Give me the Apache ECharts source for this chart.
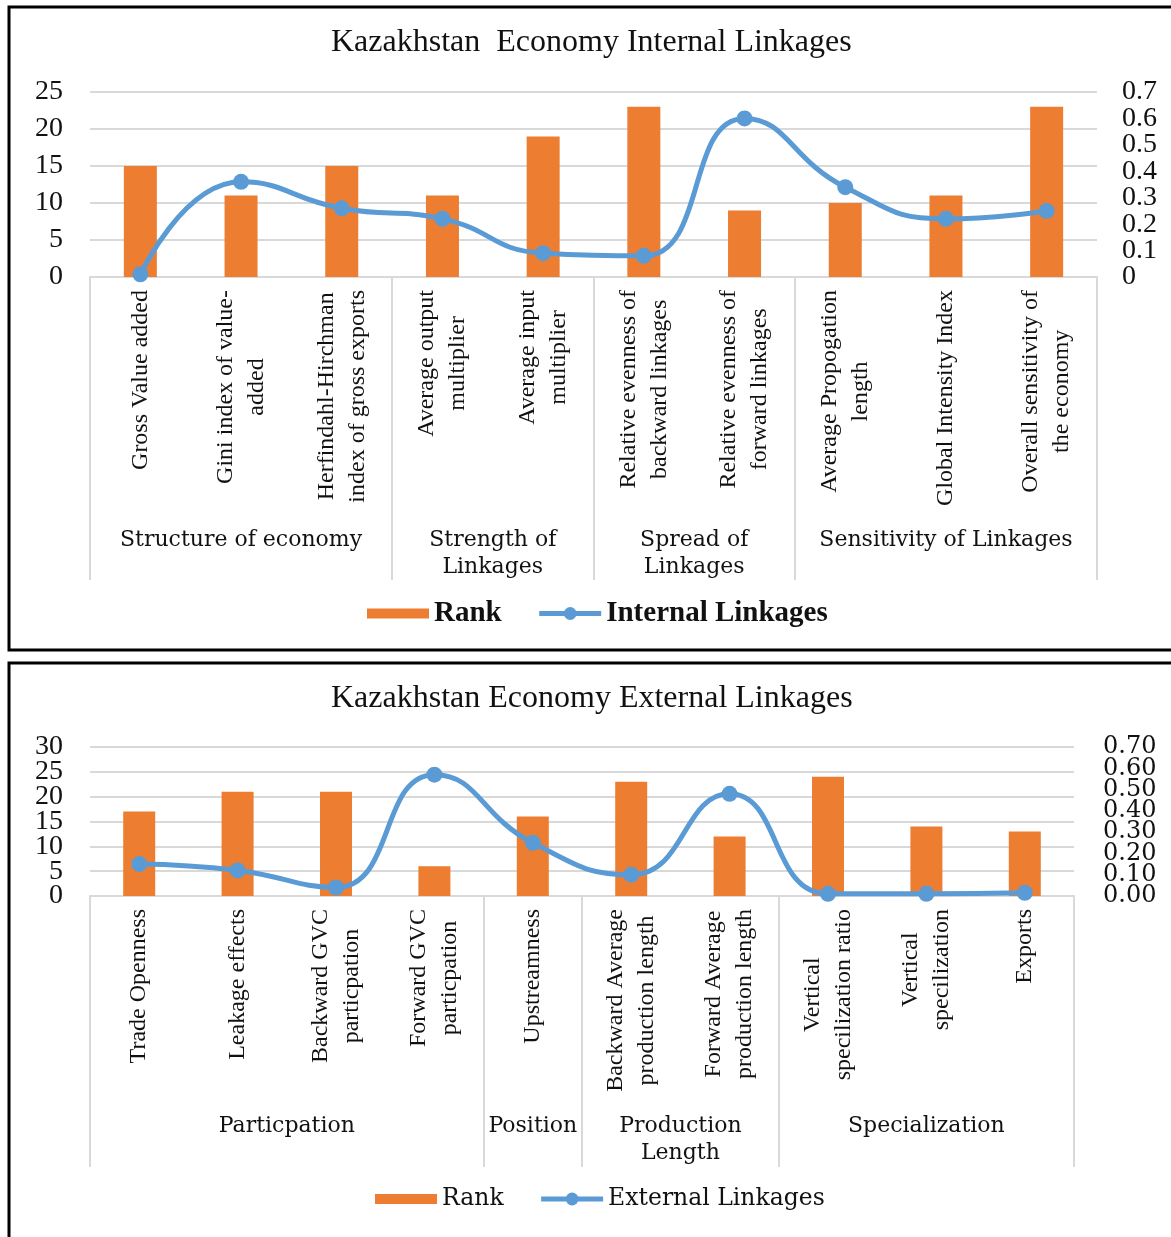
<!DOCTYPE html>
<html>
<head>
<meta charset="utf-8">
<script src="https://cdn.jsdelivr.net/npm/echarts@6/dist/echarts.min.js"></script>
<style>
  html, body { margin: 0; padding: 0; background: #fff; }
  #main { width: 1171px; height: 1237px; }
</style>
</head>
<body>
<div id="main"></div>
<script>
// internal linkages panel
const internalCats = [
  'Gross Value added',
  'Gini index of value-\nadded',
  'Herfindahl-Hirchman\nindex of gross exports',
  'Average output\nmultiplier',
  'Average input\nmultiplier',
  'Relative evenness of\nbackward linkages',
  'Relative evenness of\nforward linkages',
  'Average Propogation\nlength',
  'Global Intensity Index',
  'Overall sensitivity of\nthe economy'
];
const internalRank = [15, 11, 15, 11, 19, 23, 9, 10, 11, 23];
const internalLinkage = [0.01, 0.36, 0.26, 0.22, 0.09, 0.08, 0.60, 0.34, 0.22, 0.25];
const internalGroups = ['Structure of economy', 'Strength of\nLinkages', 'Spread of\nLinkages', 'Sensitivity of Linkages'];
const internalBreaks = [0, 3, 5, 7, 10];
const internalRankTicks = [0, 5, 10, 15, 20, 25];

// external linkages panel
const externalCats = [
  'Trade Openness',
  'Leakage effects',
  'Backward GVC\nparticpation',
  'Forward GVC\nparticpation',
  'Upstreamness',
  'Backward Average\nproduction length',
  'Forward Average\nproduction length',
  'Vertical\nspecilization ratio',
  'Vertical\nspecilization',
  'Exports'
];
const externalRank = [17, 21, 21, 6, 16, 23, 12, 24, 14, 13];
const externalLinkage = [0.15, 0.12, 0.04, 0.57, 0.25, 0.10, 0.48, 0.01, 0.01, 0.015];
const externalGroups = ['Particpation', 'Position', 'Production\nLength', 'Specialization'];
const externalBreaks = [0, 4, 5, 7, 10];
const externalRankTicks = [0, 5, 10, 15, 20, 25, 30];

// both right axes share the same 0 .. 0.7 scale
const linkageTicks = [0, 0.1, 0.2, 0.3, 0.4, 0.5, 0.6, 0.7];

const ORANGE = '#ED7D31';
const BLUE = '#5B9BD5';
const GRID_GREY = '#d9d9d9';
const TXT = '#111';
const BAR_ICON = 'path://M0,0H62V10H0Z';

// every line of a wrapped label gets centred inside the rotated block
const centredLines = v => v.split('\n').map(s => '{c|' + s + '}').join('\n');

function catAxis(gridIndex, cats) {
  return {
    type: 'category', gridIndex, data: cats,
    axisLine: { lineStyle: { color: GRID_GREY, width: 2 } },
    axisTick: { show: false },
    axisLabel: {
      interval: 0, rotate: 90, margin: 13, formatter: centredLines,
      rich: { c: { align: 'center', fontFamily: 'Liberation Serif', fontSize: 24, lineHeight: 31, color: TXT } }
    }
  };
}

function groupAxis(gridIndex, groups, breaks, tickLen, margin) {
  const mids = groups.map((g, i) => (breaks[i] + breaks[i + 1]) / 2);
  return {
    type: 'value', gridIndex, position: 'bottom', min: 0, max: breaks[breaks.length - 1],
    axisLine: { show: false },
    splitLine: { show: false },
    axisTick: { show: true, customValues: breaks, length: tickLen, lineStyle: { color: GRID_GREY, width: 2 } },
    axisLabel: {
      customValues: mids, margin,
      formatter: v => groups[mids.indexOf(v)],
      fontFamily: 'DejaVu Serif', fontSize: 22, lineHeight: 27, color: TXT
    }
  };
}

// The tick labels sit closer than their font height, and ECharts drops
// the end ones as overlaps. Two stacked axes, each carrying every other
// label, keep them all.
function valueAxisPair(gridIndex, position, ticks, label, withGrid) {
  const base = {
    type: 'value', gridIndex, position, min: 0, max: ticks[ticks.length - 1],
    interval: ticks[1] - ticks[0],
    axisLine: { show: false }, axisTick: { show: false }
  };
  return [0, 1].map(k => Object.assign({}, base, {
    splitLine: (withGrid && k === 0) ? { lineStyle: { color: GRID_GREY, width: 2 } } : { show: false },
    axisLabel: Object.assign({ customValues: ticks.filter((t, i) => i % 2 === k) }, label)
  }));
}

const leftLabel = { margin: 27, fontFamily: 'Liberation Serif', fontSize: 28, color: TXT };
const rightLabel1 = { margin: 25, fontFamily: 'Liberation Serif', fontSize: 28, color: TXT,
  formatter: v => v === 0 ? '0' : v.toFixed(1) };
const rightLabel2 = { margin: 29, fontFamily: 'DejaVu Serif', fontSize: 24, color: TXT,
  formatter: v => v.toFixed(2) };

function legendBlock(lineName, left, top, textStyle) {
  return {
    data: [{ name: 'Rank', icon: BAR_ICON }, lineName],
    left, top, padding: 0, itemWidth: 62, itemHeight: 16, itemGap: 35,
    lineStyle: { width: 5 },
    textStyle
  };
}

const chart = echarts.init(document.getElementById('main'));
chart.setOption({
  animation: false,
  backgroundColor: '#fff',
  graphic: [
    { type: 'rect', silent: true, shape: { x: 9, y: 7, width: 1200, height: 643 }, style: { fill: 'none', stroke: '#000', lineWidth: 3 } },
    { type: 'rect', silent: true, shape: { x: 9, y: 663, width: 1200, height: 620 }, style: { fill: 'none', stroke: '#000', lineWidth: 3 } }
  ],
  title: [
    { text: 'Kazakhstan  Economy Internal Linkages', left: 331, top: 27, padding: 0,
      textStyle: { fontFamily: 'Liberation Serif', fontWeight: 'normal', fontSize: 32, color: TXT } },
    { text: 'Kazakhstan Economy External Linkages', left: 331, top: 683, padding: 0,
      textStyle: { fontFamily: 'Liberation Serif', fontWeight: 'normal', fontSize: 32, color: TXT } }
  ],
  legend: [
    legendBlock('Internal Linkages', 367, 599,
      { fontFamily: 'Liberation Serif', fontWeight: 'bold', fontSize: 29, color: TXT }),
    legendBlock('External Linkages', 375, 1187,
      { fontFamily: 'DejaVu Serif', fontSize: 23.5, color: TXT })
  ],
  grid: [
    { left: 90, right: 74, top: 92, height: 185, outerBoundsMode: 'none' },
    { left: 90, right: 97, top: 747, height: 149, outerBoundsMode: 'none' }
  ],
  xAxis: [
    catAxis(0, internalCats),
    groupAxis(0, internalGroups, internalBreaks, 303, 250),
    catAxis(1, externalCats),
    groupAxis(1, externalGroups, externalBreaks, 271, 217)
  ],
  yAxis: [
    ...valueAxisPair(0, 'left', internalRankTicks, leftLabel, true),    // 0, 1
    ...valueAxisPair(0, 'right', linkageTicks, rightLabel1, false),     // 2, 3
    ...valueAxisPair(1, 'left', externalRankTicks, leftLabel, true),    // 4, 5
    ...valueAxisPair(1, 'right', linkageTicks, rightLabel2, false)      // 6, 7
  ],
  series: [
    { type: 'bar', name: 'Rank', xAxisIndex: 0, yAxisIndex: 0, data: internalRank,
      barWidth: 33, itemStyle: { color: ORANGE } },
    { type: 'line', name: 'Internal Linkages', xAxisIndex: 0, yAxisIndex: 2, data: internalLinkage,
      smooth: 0.5, symbol: 'circle', symbolSize: 16,
      lineStyle: { color: BLUE, width: 5 }, itemStyle: { color: BLUE } },
    { type: 'bar', name: 'Rank', xAxisIndex: 2, yAxisIndex: 4, data: externalRank,
      barWidth: 32, itemStyle: { color: ORANGE } },
    { type: 'line', name: 'External Linkages', xAxisIndex: 2, yAxisIndex: 6, data: externalLinkage,
      smooth: 0.5, symbol: 'circle', symbolSize: 16,
      lineStyle: { color: BLUE, width: 5 }, itemStyle: { color: BLUE } }
  ]
});
</script>
</body>
</html>
